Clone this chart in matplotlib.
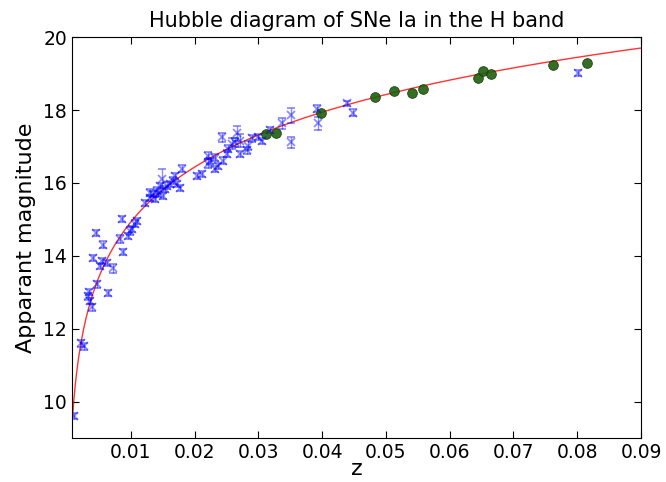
import numpy as np
import matplotlib
matplotlib.use('Agg')
import matplotlib.pyplot as plt

# CfA-like low-z sample (blue crosses with errors)
z_cfa = [0.00106, 0.00216, 0.00263, 0.00325, 0.00357, 0.00388, 0.0034, 0.00467,
         0.00404, 0.00451, 0.00545, 0.00561, 0.00624, 0.00639, 0.00718, 0.00859,
         0.00875, 0.00827, 0.00953, 0.00984, 0.0102, 0.0106, 0.0109, 0.0122,
         0.0130, 0.0130, 0.0135, 0.0138, 0.0141, 0.0145, 0.0149, 0.0150,
         0.0156, 0.0161, 0.0166, 0.0172, 0.0177, 0.0180, 0.0204, 0.0211,
         0.0221, 0.0221, 0.0224, 0.0232, 0.0232, 0.0236, 0.0243, 0.0251,
         0.0258, 0.0263, 0.0266, 0.0271, 0.0271, 0.0282, 0.0283, 0.0290,
         0.0299, 0.0306, 0.0318, 0.0337, 0.0351, 0.0351, 0.0392, 0.0393,
         0.0439, 0.0448, 0.0801, 0.0153, 0.0143, 0.0169, 0.0051, 0.0252, 0.0245]
m_cfa = [9.61, 11.60, 11.52, 12.89, 12.75, 12.59, 13.00, 13.22,
         13.94, 14.63, 13.86, 14.30, 13.80, 12.98, 13.66, 15.01,
         14.10, 14.46, 14.55, 14.68, 14.74, 14.88, 14.96, 15.45,
         15.59, 15.73, 15.70, 15.56, 15.79, 15.92, 16.12, 15.65,
         15.92, 15.98, 16.06, 15.98, 15.87, 16.39, 16.20, 16.25,
         16.75, 16.53, 16.61, 16.69, 16.39, 16.47, 17.25, 16.80,
         17.08, 17.11, 17.36, 16.80, 17.16, 16.89, 17.02, 17.22,
         17.25, 17.16, 17.44, 17.63, 17.85, 17.11, 18.04, 17.63,
         18.18, 17.93, 19.01, 15.84, 15.70, 16.20, 13.72, 16.94, 16.61]
dm_cfa = [0.08, 0.10, 0.10, 0.10, 0.08, 0.10, 0.08, 0.10,
          0.08, 0.08, 0.08, 0.10, 0.08, 0.08, 0.12, 0.08,
          0.08, 0.10, 0.08, 0.10, 0.08, 0.10, 0.08, 0.08,
          0.08, 0.10, 0.08, 0.08, 0.10, 0.08, 0.25, 0.08,
          0.10, 0.08, 0.10, 0.08, 0.08, 0.10, 0.08, 0.08,
          0.10, 0.12, 0.08, 0.10, 0.08, 0.08, 0.12, 0.10,
          0.15, 0.12, 0.20, 0.08, 0.18, 0.10, 0.12, 0.10,
          0.08, 0.08, 0.08, 0.15, 0.20, 0.15, 0.10, 0.18,
          0.08, 0.10, 0.08, 0.08, 0.08, 0.08, 0.08, 0.10, 0.10]

# CSP-like sample (green circles)
z_csp = [0.0312, 0.0327, 0.0398, 0.0483, 0.0513, 0.0541, 0.0558,
         0.0644, 0.0652, 0.0665, 0.0762, 0.0815]
m_csp = [17.33, 17.38, 17.93, 18.35, 18.51, 18.46, 18.57,
         18.87, 19.06, 18.98, 19.23, 19.28]

# Hubble-law fit: m = 5 log10(z) + zeropoint
zeropoint = 24.93

fig = plt.figure(figsize=(6.66, 4.82), dpi=100)
ax = fig.add_axes([0.108, 0.0913, 0.8545, 0.8317])

zz = np.linspace(0.0007, 0.092, 500)
ax.plot(zz, 5 * np.log10(zz) + zeropoint, color='red', lw=1.0, alpha=0.8)
ax.errorbar(z_cfa, m_cfa, yerr=dm_cfa, fmt='x', color='blue', alpha=0.45,
            capsize=3, markersize=6, mew=1.3, elinewidth=1)
ax.plot(z_csp, m_csp, 'o', color='#1f5e0c', mec='#143d08', mew=0.6,
        markersize=7, alpha=0.9)

ax.set_xlim(0.00075, 0.09)
ax.set_ylim(9, 20)
ax.set_xticks([0.01, 0.02, 0.03, 0.04, 0.05, 0.06, 0.07, 0.08, 0.09])
ax.set_yticks([10, 12, 14, 16, 18, 20])
ax.tick_params(direction='in', top=True, right=True, labelsize=13.5, length=5)
ax.set_xlabel('z', fontsize=16, labelpad=-2)
ax.set_ylabel('Apparant magnitude', fontsize=16, labelpad=5)
ax.set_title('Hubble diagram of SNe Ia in the H band', fontsize=15, pad=7)

fig.savefig('out.png', dpi=100)
